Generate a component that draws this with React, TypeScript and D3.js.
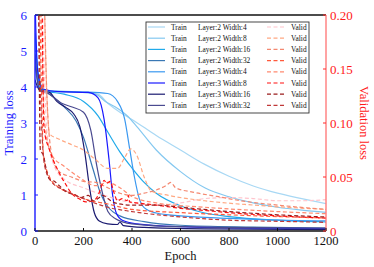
import React from 'react';
import * as d3 from 'd3';

// model configs, in legend order
const configs = [
  'Layer:2 Width:4', 'Layer:2 Width:8', 'Layer:2 Width:16', 'Layer:2 Width:32',
  'Layer:3 Width:4', 'Layer:3 Width:8', 'Layer:3 Width:16', 'Layer:3 Width:32',
];

const xTicks = [0, 200, 400, 600, 800, 1000, 1200];
const yTicks = [0, 1, 2, 3, 4, 5, 6];
const y2Ticks = [0, 0.05, 0.1, 0.15, 0.2];

// training loss, [epoch, loss]
const trainL2W4 = [[0,5.2],[15,4.2],[40,3.92],[100,3.88],[200,3.86],[260,3.8],[300,3.55],[350,3.3],[400,3.1],[500,2.65],[600,2.25],[700,1.85],[800,1.52],[900,1.25],[1000,1.05],[1100,0.9],[1200,0.76]];
const trainL2W8 = [[0,4.8],[15,4.1],[40,3.9],[150,3.87],[250,3.8],[290,3.6],[330,3.45],[380,3.2],[420,2.9],[500,2.25],[600,1.65],[700,1.2],[800,0.95],[900,0.78],[1000,0.66],[1100,0.58],[1200,0.52]];
const trainL2W16 = [[0,5.5],[15,4.3],[40,3.9],[120,3.8],[200,3.6],[260,3.2],[300,2.75],[350,2.2],[400,1.75],[450,1.35],[500,1.05],[600,0.7],[700,0.5],[800,0.4],[1000,0.3],[1200,0.25]];
const trainL2W32 = [[0,4.6],[20,3.9],[60,3.8],[120,3.45],[170,3.05],[200,2.6],[240,1.7],[270,1.05],[300,0.68],[350,0.42],[450,0.26],[600,0.16],[900,0.11],[1200,0.08]];
const trainL3W4 = [[0,5.0],[20,4.0],[50,3.88],[200,3.86],[300,3.82],[340,3.6],[370,3.1],[390,2.3],[410,1.5],[430,0.9],[450,0.65],[500,0.5],[600,0.42],[800,0.35],[1000,0.3],[1200,0.28]];
const trainL3W8 = [[0,6.5],[10,4.5],[30,3.95],[100,3.87],[220,3.85],[260,3.7],[285,3.1],[305,2.0],[320,1.0],[335,0.5],[360,0.3],[420,0.2],[600,0.12],[900,0.08],[1200,0.07]];
const trainL3W16 = [[0,4.2],[20,3.9],[60,3.85],[90,3.6],[130,3.42],[160,3.25],[185,2.9],[205,2.2],[225,1.2],[245,0.5],[265,0.28],[300,0.2],[340,0.18],[350,0.25],[365,0.15],[450,0.1],[700,0.06],[1200,0.04]];
const trainL3W32 = [[0,4.9],[15,4.0],[50,3.85],[110,3.55],[150,3.45],[200,3.3],[230,2.8],[255,1.8],[280,1.0],[300,0.55],[330,0.35],[400,0.2],[600,0.12],[1200,0.08]];

// validation loss, [epoch, loss]
const validL2W4 = [[0,0.6],[30,0.22],[50,0.09],[80,0.06],[120,0.048],[200,0.04],[300,0.032],[400,0.026],[500,0.024],[600,0.026],[700,0.03],[800,0.031],[900,0.03],[1000,0.028],[1100,0.028],[1200,0.029]];
const validL2W8 = [[0,0.6],[20,0.5],[40,0.2],[60,0.09],[100,0.085],[150,0.08],[200,0.075],[250,0.066],[300,0.058],[340,0.058],[370,0.068],[395,0.076],[420,0.07],[450,0.05],[480,0.037],[550,0.033],[700,0.028],[900,0.024],[1200,0.02]];
const validL2W16 = [[0,0.5],[30,0.3],[50,0.12],[70,0.07],[100,0.055],[150,0.05],[200,0.046],[250,0.045],[300,0.04],[350,0.035],[400,0.033],[450,0.035],[500,0.038],[540,0.042],[560,0.045],[580,0.04],[650,0.036],[750,0.032],[850,0.028],[1000,0.024],[1200,0.02]];
const validL2W32 = [[0,0.4],[20,0.2],[35,0.07],[60,0.05],[100,0.04],[150,0.035],[200,0.03],[300,0.025],[400,0.02],[600,0.017],[800,0.015],[1200,0.012]];
const validL3W4 = [[0,0.4],[25,0.2],[40,0.1],[70,0.07],[120,0.06],[180,0.05],[250,0.042],[300,0.045],[350,0.04],[400,0.032],[500,0.026],[700,0.022],[1000,0.018],[1200,0.016]];
const validL3W8 = [[0,0.6],[25,0.3],[37,0.095],[60,0.075],[95,0.056],[130,0.042],[150,0.035],[180,0.03],[210,0.027],[240,0.028],[260,0.033],[275,0.042],[285,0.047],[295,0.044],[310,0.046],[325,0.036],[340,0.028],[360,0.03],[380,0.028],[385,0.033],[390,0.027],[420,0.026],[500,0.024],[600,0.021],[700,0.019],[800,0.017],[1000,0.014],[1200,0.012]];
const validL3W16 = [[0,0.5],[15,0.2],[22,0.075],[35,0.07],[49,0.054],[60,0.048],[80,0.046],[100,0.042],[130,0.036],[160,0.034],[190,0.031],[220,0.033],[240,0.028],[260,0.03],[280,0.033],[300,0.03],[330,0.026],[400,0.024],[500,0.024],[600,0.022],[800,0.018],[1000,0.015],[1200,0.013]];
const validL3W32 = [[0,0.5],[20,0.15],[40,0.06],[70,0.045],[120,0.038],[200,0.03],[300,0.022],[400,0.018],[600,0.013],[800,0.01],[1000,0.009],[1200,0.008]];

const trainData = [trainL2W4, trainL2W8, trainL2W16, trainL2W32, trainL3W4, trainL3W8, trainL3W16, trainL3W32];
const validData = [validL2W4, validL2W8, validL2W16, validL2W32, validL3W4, validL3W8, validL3W16, validL3W32];

const trainColors = ['#a8d8f4', '#84c8f0', '#20aaea', '#3a78b4', '#3a98f0', '#1818ff', '#1a1a70', '#4a4a90'];
const validColors = ['#ffc4cc', '#ffa882', '#f48870', '#ff5a3c', '#ff8a70', '#ff1010', '#9a1c1c', '#c03838'];

const W = 374, H = 267;
const m = { left: 35, right: 326, top: 15, bottom: 231 };
const serif = '"Liberation Serif", "DejaVu Serif", serif';

export default function App() {
  const x = d3.scaleLinear().domain([0, 1200]).range([m.left, m.right]);
  const y = d3.scaleLinear().domain([0, 6]).range([m.bottom, m.top]);
  const y2 = d3.scaleLinear().domain([0, 0.2]).range([m.bottom, m.top]);

  const trainLine = d3.line<number[]>().x(d => x(d[0])).y(d => y(d[1])).curve(d3.curveMonotoneX);
  const validLine = d3.line<number[]>().x(d => x(d[0])).y(d => y2(d[1])).curve(d3.curveMonotoneX);

  const lx = 146, ly = 22, rowH = 11.2;

  return (
    <svg width={W} height={H} style={{ position: 'absolute', left: 0, top: 0 }} fontFamily={serif}>
      <defs>
        <clipPath id="plot">
          <rect x={m.left} y={m.top} width={m.right - m.left} height={m.bottom - m.top} />
        </clipPath>
      </defs>
      <rect width={W} height={H} fill="#fff" />

      <g clipPath="url(#plot)" fill="none">
        {trainData.map((d, i) => (
          <path key={'t' + i} d={trainLine(d) || ''} stroke={trainColors[i]} strokeWidth={1.2} />
        ))}
        {validData.map((d, i) => (
          <path key={'v' + i} d={validLine(d) || ''} stroke={validColors[i]} strokeWidth={1.2} strokeDasharray="4,2.5" />
        ))}
      </g>

      {/* frame */}
      <line x1={m.left} x2={m.right} y1={m.top} y2={m.top} stroke="#111" strokeWidth={1.3} />
      <line x1={m.left} x2={m.right} y1={m.bottom} y2={m.bottom} stroke="#111" strokeWidth={1.3} />
      <line x1={m.left} x2={m.left} y1={m.top} y2={m.bottom} stroke="#1a1aff" strokeWidth={1.4} />
      <line x1={m.right} x2={m.right} y1={m.top} y2={m.bottom} stroke="#ff7c7c" strokeWidth={1.4} />

      {/* x axis */}
      {xTicks.map(t => (
        <g key={'x' + t}>
          <line x1={x(t)} x2={x(t)} y1={m.bottom} y2={m.bottom - 3} stroke="#111" />
          <text x={x(t)} y={m.bottom + 14} fontSize={12.5} textAnchor="middle" fill="#111">{t}</text>
        </g>
      ))}
      <text x={(m.left + m.right) / 2} y={260} fontSize={12.5} textAnchor="middle" fill="#111">Epoch</text>

      {/* left axis */}
      {yTicks.map(t => (
        <g key={'y' + t}>
          <line x1={m.left} x2={m.left + 3} y1={y(t)} y2={y(t)} stroke="#1a1aff" />
          <text x={m.left - 8} y={y(t) + 4.5} fontSize={13} textAnchor="end" fill="#1a1aff">{t}</text>
        </g>
      ))}
      <text transform={`translate(13,${(m.top + m.bottom) / 2}) rotate(-90)`} fontSize={12.5} textAnchor="middle" fill="#1a1aff">Training loss</text>

      {/* right axis */}
      {y2Ticks.map(t => (
        <g key={'r' + t}>
          <line x1={m.right} x2={m.right - 3} y1={y2(t)} y2={y2(t)} stroke="#ff2a2a" />
          <text x={m.right + 4} y={y2(t) + 4.5} fontSize={13} textAnchor="start" fill="#ff1a1a">{t === 0 ? '0' : t.toFixed(2)}</text>
        </g>
      ))}
      <text transform={`translate(360,${(m.top + m.bottom) / 2}) rotate(90)`} fontSize={12.5} textAnchor="middle" fill="#ff1a1a">Validation loss</text>

      {/* legend */}
      <rect x={lx} y={ly} width={163} height={91} fill="#fff" stroke="#333" strokeWidth={0.9} />
      {configs.map((c, i) => {
        const cy = ly + 5 + i * rowH;
        return (
          <g key={c} fontSize={7.4} fill="#111">
            <line x1={lx + 2} x2={lx + 19} y1={cy} y2={cy} stroke={trainColors[i]} strokeWidth={1.2} />
            <text x={lx + 25} y={cy + 2.5}>Train</text>
            <text x={lx + 52} y={cy + 2.5}>{c}</text>
            <line x1={lx + 121} x2={lx + 138} y1={cy} y2={cy} stroke={validColors[i]} strokeWidth={1.2} strokeDasharray="4,2.5" />
            <text x={lx + 145} y={cy + 2.5}>Valid</text>
          </g>
        );
      })}
    </svg>
  );
}
